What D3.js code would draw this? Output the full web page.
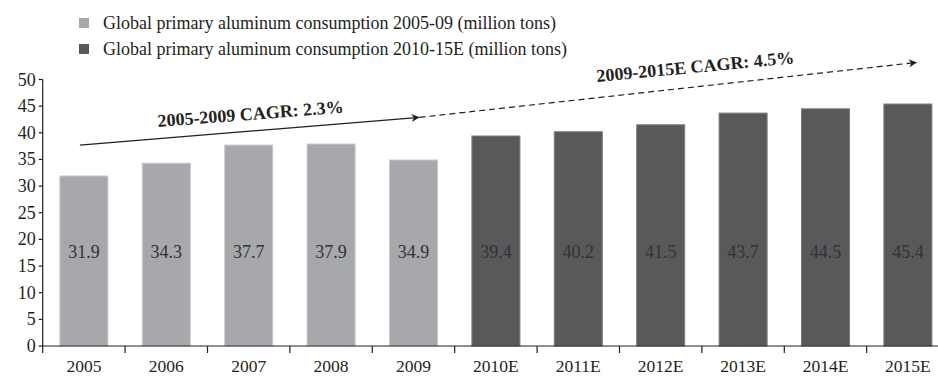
<!DOCTYPE html>
<html>
<head>
<meta charset="utf-8">
<script src="https://cdn.jsdelivr.net/npm/d3@7"></script>
<style>
  html, body { margin: 0; padding: 0; background: #fff; }
  svg { display: block; }
  svg text { font-family: "Liberation Serif", "Times New Roman", Tinos, "DejaVu Serif", serif; }
</style>
</head>
<body>
<svg id="chart" width="938" height="376"></svg>
<script>
// Global primary aluminum consumption, million tons
const years = ["2005", "2006", "2007", "2008", "2009", "2010E", "2011E", "2012E", "2013E", "2014E", "2015E"];
const consumption = [31.9, 34.3, 37.7, 37.9, 34.9, 39.4, 40.2, 41.5, 43.7, 44.5, 45.4];
const period = ["hist", "hist", "hist", "hist", "hist", "fcst", "fcst", "fcst", "fcst", "fcst", "fcst"];
const yTicks = [0, 5, 10, 15, 20, 25, 30, 35, 40, 45, 50];
const legendLabels = [
  "Global primary aluminum consumption 2005-09 (million tons)",
  "Global primary aluminum consumption 2010-15E (million tons)"
];
const cagrLabels = ["2005-2009 CAGR: 2.3%", "2009-2015E CAGR: 4.5%"];

const fill = { hist: "#a7a8ab", fcst: "#58595b" };
const edge = { hist: "#c9cacc", fcst: "#7d7e80" };

const svg = d3.select("#chart");
const x0 = 42.7, y0 = 346;

const x = d3.scaleBand()
  .domain(years)
  .range([x0, x0 + 82.4 * years.length])
  .paddingInner(0.417)
  .paddingOuter(0.2085);

const y = d3.scaleLinear().domain([0, 50]).range([y0, 79.5]);

// bars
svg.append("g").selectAll("rect")
  .data(years)
  .join("rect")
  .attr("x", (d) => x(d))
  .attr("y", (d, i) => y(consumption[i]))
  .attr("width", x.bandwidth())
  .attr("height", (d, i) => y(0) - y(consumption[i]))
  .attr("fill", (d, i) => fill[period[i]])
  .attr("stroke", (d, i) => edge[period[i]])
  .attr("stroke-width", 1);

// value labels, all on one baseline inside the bars
svg.append("g").selectAll("text")
  .data(years)
  .join("text")
  .attr("x", (d) => x(d) + x.bandwidth() / 2)
  .attr("y", y(16.6))
  .attr("text-anchor", "middle")
  .attr("font-size", 18)
  .attr("fill", "#333")
  .text((d, i) => consumption[i].toFixed(1));

// y axis
const yAxis = svg.append("g").attr("stroke", "#231f20").attr("stroke-width", 1.2);
yAxis.append("line")
  .attr("x1", x0).attr("x2", x0)
  .attr("y1", y(50)).attr("y2", y(0));
yAxis.selectAll("line.tick")
  .data(yTicks)
  .join("line")
  .attr("class", "tick")
  .attr("x1", x0 - 4).attr("x2", x0)
  .attr("y1", (d) => y(d)).attr("y2", (d) => y(d));
svg.append("g").selectAll("text")
  .data(yTicks)
  .join("text")
  .attr("x", x0 - 7)
  .attr("y", (d) => y(d) + 6)
  .attr("text-anchor", "end")
  .attr("font-size", 18)
  .attr("fill", "#231f20")
  .text((d) => d);

// x axis
const xAxis = svg.append("g").attr("stroke", "#231f20").attr("stroke-width", 1.2);
xAxis.append("line")
  .attr("x1", x0).attr("x2", 938)
  .attr("y1", y0).attr("y2", y0);
xAxis.selectAll("line.tick")
  .data(years)
  .join("line")
  .attr("class", "tick")
  .attr("x1", (d) => x(d) - x.step() * x.paddingOuter())
  .attr("x2", (d) => x(d) - x.step() * x.paddingOuter())
  .attr("y1", y0).attr("y2", y0 + 7);
svg.append("g").selectAll("text")
  .data(years)
  .join("text")
  .attr("x", (d) => x(d) + x.bandwidth() / 2)
  .attr("y", 372)
  .attr("text-anchor", "middle")
  .attr("font-size", 17.5)
  .attr("fill", "#231f20")
  .text((d) => d);

// legend
const legend = svg.append("g");
legendLabels.forEach((label, i) => {
  const key = i === 0 ? "hist" : "fcst";
  legend.append("rect")
    .attr("x", 79).attr("y", 18 + i * 26)
    .attr("width", 10).attr("height", 10)
    .attr("fill", fill[key]);
  legend.append("text")
    .attr("x", 103).attr("y", 29 + i * 26)
    .attr("font-size", 18)
    .attr("fill", "#231f20")
    .text(label);
});

// CAGR arrows
const defs = svg.append("defs");
defs.append("marker")
  .attr("id", "arrow")
  .attr("viewBox", "0 0 10 10")
  .attr("refX", 10).attr("refY", 5)
  .attr("markerWidth", 10).attr("markerHeight", 8)
  .attr("markerUnits", "userSpaceOnUse")
  .attr("orient", "auto")
  .append("path")
  .attr("d", "M0,0 L10,5 L0,10 L3,5 Z")
  .attr("fill", "#231f20");

const mid = (d) => x(d) + x.bandwidth() / 2;
const p0 = [mid("2005") - 4, y(37.7)];
const p1 = [mid("2009") + 6, y(42.9)];
const p2 = [mid("2015E") + 9, y(53.2)];

svg.append("line")
  .attr("x1", p0[0]).attr("y1", p0[1])
  .attr("x2", p1[0]).attr("y2", p1[1])
  .attr("stroke", "#231f20").attr("stroke-width", 1.2)
  .attr("marker-end", "url(#arrow)");
svg.append("line")
  .attr("x1", p1[0]).attr("y1", p1[1])
  .attr("x2", p2[0]).attr("y2", p2[1])
  .attr("stroke", "#231f20").attr("stroke-width", 1.2)
  .attr("stroke-dasharray", "6,4")
  .attr("marker-end", "url(#arrow)");

svg.append("text")
  .attr("transform", "translate(158,127) rotate(-4.4)")
  .attr("font-size", 18).attr("font-weight", "bold")
  .attr("fill", "#231f20")
  .text(cagrLabels[0]);
svg.append("text")
  .attr("transform", "translate(597,82) rotate(-5.4)")
  .attr("font-size", 18).attr("font-weight", "bold")
  .attr("fill", "#231f20")
  .text(cagrLabels[1]);
</script>
</body>
</html>
